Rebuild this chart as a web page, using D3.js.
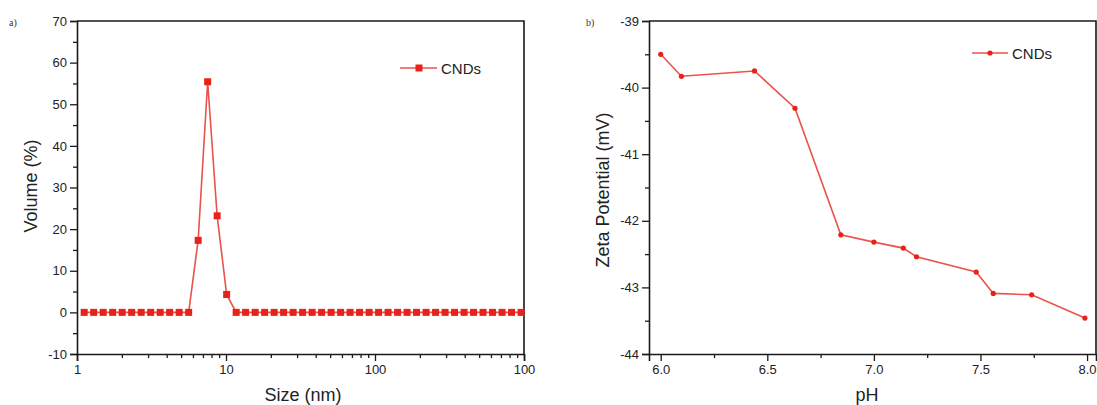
<!DOCTYPE html>
<html><head><meta charset="utf-8">
<script src="https://cdn.jsdelivr.net/npm/d3@7"></script>
<style>
html,body{margin:0;padding:0;background:#fff;}
svg{display:block;font-family:"Liberation Sans",Arial,sans-serif;}
</style></head>
<body>
<svg id="chart" width="1097" height="405"></svg>
<script>
// ---- Data: panel a) size distribution ----
const sizeNm = [1.117,1.294,1.499,1.736,2.01,2.328,2.696,3.122,3.615,4.187,4.849,5.615,6.503,7.531,8.721,10.1,11.7,13.54,15.69,18.17,21.04,24.36,28.21,32.67,37.84,43.82,50.75,58.77,68.06,78.82,91.28,105.7,122.4,141.8,164.2,190.1,220.2,255.0,295.3,342.0,396.1,458.7,531.2,615.1,712.4,825.0,955.4];
const volumePct = [0,0,0,0,0,0,0,0,0,0,0,0,17.3,55.4,23.2,4.3,0,0,0,0,0,0,0,0,0,0,0,0,0,0,0,0,0,0,0,0,0,0,0,0,0,0,0,0,0,0,0];
const sizeTicks = [1,10,100,1000];
const sizeTickLabels = ["1","10","100","100"];
const volumeTicks = [-10,0,10,20,30,40,50,60,70];

// ---- Data: panel b) zeta potential ----
const pH = [6.0,6.097,6.44,6.63,6.845,7.0,7.138,7.20,7.48,7.56,7.74,7.99];
const zeta = [-39.5,-39.83,-39.75,-40.31,-42.21,-42.32,-42.41,-42.54,-42.77,-43.09,-43.11,-43.46];
const pHTicks = [6.0,6.5,7.0,7.5,8.0];
const zetaTicks = [-44,-43,-42,-41,-40,-39];
const seriesName = "CNDs";

const svg = d3.select("#chart");
const AX = "#1a1a1a", LINE = "#e8534b", MARK = "#e8211b";
const tickFont = 13, titleFont = 18;

function frame(g, x0, x1, y0, y1){
  g.append("path").attr("d",`M${x0},${y0}H${x1}V${y1}`).attr("fill","none").attr("stroke",AX).attr("stroke-width",1.6);
}
function styleAxis(sel){
  sel.select(".domain").attr("stroke",AX).attr("stroke-width",1.6);
  sel.selectAll(".tick line").attr("stroke",AX).attr("stroke-width",1.3);
  sel.selectAll(".tick text").attr("fill","#222").style("font-size",tickFont+"px").style("font-family","Liberation Sans, Arial, sans-serif");
}
const plain = d => String(d);

// ===== Panel a =====
{
  const x = d3.scaleLog().domain([1,1000]).range([77,524]);
  const y = d3.scaleLinear().domain([-10,70]).range([354,21]);
  const g = svg.append("g");
  frame(g, 77, 524, 21, 354);
  const minorX = [];
  [1,10,100].forEach(d=>{for(let k=2;k<=9;k++) minorX.push(d*k);});
  g.append("g").attr("transform","translate(0,354)")
    .call(d3.axisBottom(x).tickValues(minorX).tickSize(4).tickFormat(""))
    .call(s=>{styleAxis(s); s.select(".domain").remove();});
  g.append("g").attr("transform","translate(0,354)")
    .call(d3.axisBottom(x).tickValues(sizeTicks).tickSize(7).tickPadding(4).tickFormat((d,i)=>sizeTickLabels[i]))
    .call(styleAxis);
  const minorY = d3.range(-5,70,10);
  g.append("g").attr("transform","translate(77,0)")
    .call(d3.axisLeft(y).tickValues(minorY).tickSize(4).tickFormat(""))
    .call(s=>{styleAxis(s); s.select(".domain").remove();});
  g.append("g").attr("transform","translate(77,0)")
    .call(d3.axisLeft(y).tickValues(volumeTicks).tickSize(7).tickPadding(3).tickFormat(plain))
    .call(styleAxis);
  const pts = sizeNm.map((s,i)=>[s,volumePct[i]]);
  g.append("path").datum(pts)
    .attr("d",d3.line().x(d=>x(d[0])).y(d=>y(d[1])))
    .attr("fill","none").attr("stroke",LINE).attr("stroke-width",1.6);
  g.selectAll("rect.m").data(pts).join("rect").attr("class","m")
    .attr("x",d=>x(d[0])-3.5).attr("y",d=>y(d[1])-3.5).attr("width",7).attr("height",7).attr("fill",MARK);
  g.append("text").attr("x",303).attr("y",401).attr("text-anchor","middle")
    .style("font-size",titleFont+"px").attr("fill","#222").text("Size (nm)");
  g.append("text").attr("transform","translate(37,186) rotate(-90)").attr("text-anchor","middle")
    .style("font-size",titleFont+"px").attr("fill","#222").text("Volume (%)");
  const ly = 68;
  g.append("line").attr("x1",400).attr("x2",437).attr("y1",ly).attr("y2",ly).attr("stroke",LINE).attr("stroke-width",1.6);
  g.append("rect").attr("x",419-3.5).attr("y",ly-3.5).attr("width",7).attr("height",7).attr("fill",MARK);
  g.append("text").attr("x",441).attr("y",ly+5.5).style("font-size","15px").attr("fill","#222").text(seriesName);
  g.append("text").attr("x",9).attr("y",26).style("font-size","10px").style("font-family","Liberation Serif, serif").attr("fill","#333").text("a)");
}

// ===== Panel b =====
{
  const x = d3.scaleLinear().domain([5.945,8.042]).range([649,1096]);
  const y = d3.scaleLinear().domain([-44,-39]).range([354,21]);
  const g = svg.append("g");
  frame(g, 649, 1096, 21, 354);
  const minorX = d3.range(6.25,8.01,0.5);
  g.append("g").attr("transform","translate(0,354)")
    .call(d3.axisBottom(x).tickValues(minorX).tickSize(4).tickFormat(""))
    .call(s=>{styleAxis(s); s.select(".domain").remove();});
  g.append("g").attr("transform","translate(0,354)")
    .call(d3.axisBottom(x).tickValues(pHTicks).tickSize(7).tickPadding(4).tickFormat(d3.format(".1f")))
    .call(styleAxis);
  const minorY = d3.range(-43.5,-39,1);
  g.append("g").attr("transform","translate(649,0)")
    .call(d3.axisLeft(y).tickValues(minorY).tickSize(4).tickFormat(""))
    .call(s=>{styleAxis(s); s.select(".domain").remove();});
  g.append("g").attr("transform","translate(649,0)")
    .call(d3.axisLeft(y).tickValues(zetaTicks).tickSize(7).tickPadding(3).tickFormat(plain))
    .call(styleAxis);
  const pts = pH.map((p,i)=>[p,zeta[i]]);
  g.append("path").datum(pts)
    .attr("d",d3.line().x(d=>x(d[0])).y(d=>y(d[1])))
    .attr("fill","none").attr("stroke",LINE).attr("stroke-width",1.6);
  g.selectAll("circle.m").data(pts).join("circle").attr("class","m")
    .attr("cx",d=>x(d[0])).attr("cy",d=>y(d[1])).attr("r",2.6).attr("fill",MARK);
  g.append("text").attr("x",867).attr("y",401).attr("text-anchor","middle")
    .style("font-size",titleFont+"px").attr("fill","#222").text("pH");
  g.append("text").attr("transform","translate(609,190) rotate(-90)").attr("text-anchor","middle")
    .style("font-size",titleFont+"px").attr("fill","#222").text("Zeta Potential (mV)");
  const ly = 53;
  g.append("line").attr("x1",972).attr("x2",1008).attr("y1",ly).attr("y2",ly).attr("stroke",LINE).attr("stroke-width",1.6);
  g.append("circle").attr("cx",990).attr("cy",ly).attr("r",2.6).attr("fill",MARK);
  g.append("text").attr("x",1012).attr("y",ly+5.5).style("font-size","15px").attr("fill","#222").text(seriesName);
  g.append("text").attr("x",586).attr("y",26).style("font-size","10px").style("font-family","Liberation Serif, serif").attr("fill","#333").text("b)");
}
</script>
</body></html>
